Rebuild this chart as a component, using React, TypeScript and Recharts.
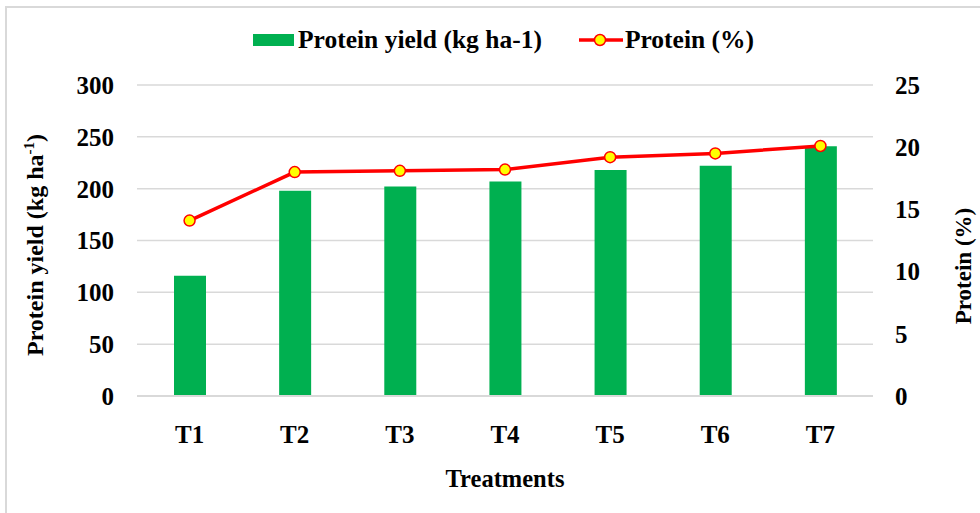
import React from 'react';
import { ComposedChart, Bar, Line, XAxis, YAxis, CartesianGrid, Legend } from 'recharts';

const categories = ['T1', 'T2', 'T3', 'T4', 'T5', 'T6', 'T7'];
const proteinYield = [116, 198, 202, 207, 218, 222, 241];
const proteinPct = [14.1, 18.0, 18.1, 18.2, 19.2, 19.5, 20.1];
const leftTicks = [0, 50, 100, 150, 200, 250, 300];
const rightTicks = [0, 5, 10, 15, 20, 25];

const data = categories.map((c, i) => ({ name: c, yield: proteinYield[i], pct: proteinPct[i] }));

const FONT = '"Liberation Serif", "Times New Roman", serif';
const GREEN = '#00b050';
const RED = '#ff0000';
const YELLOW = '#ffff00';
const GRID = '#d9d9d9';

const tickStyle = { fontFamily: FONT, fontSize: 25, fontWeight: 700, fill: '#000' };

const LegendContent = () => (
  <div style={{ display: 'flex', alignItems: 'center', fontFamily: FONT, fontSize: 25.5, fontWeight: 700, lineHeight: 1, color: '#000', whiteSpace: 'nowrap' }}>
    <svg width={41} height={12} style={{ display: 'block' }}>
      <rect x={0} y={0} width={41} height={12} fill={GREEN} />
    </svg>
    <span style={{ marginLeft: 4 }}>Protein yield (kg ha-1)</span>
    <svg width={44} height={14} style={{ display: 'block', marginLeft: 37 }}>
      <line x1={0} y1={7} x2={44} y2={7} stroke={RED} strokeWidth={3.5} />
      <circle cx={21} cy={7} r={5.5} fill={YELLOW} stroke={RED} strokeWidth={1.5} />
    </svg>
    <span style={{ marginLeft: 2 }}>Protein (%)</span>
  </div>
);

const LeftTitle = () => (
  <text x={0} y={0} transform="translate(43,245) rotate(-90)" textAnchor="middle" style={{ fontFamily: FONT, fontSize: 24, fontWeight: 700 }} fill="#000">
    Protein yield (kg ha<tspan dy={-9} fontSize={15}>-1</tspan><tspan dy={9}>)</tspan>
  </text>
);

const RightTitle = () => (
  <text x={0} y={0} transform="translate(971,266) rotate(-90)" textAnchor="middle" style={{ fontFamily: FONT, fontSize: 23, fontWeight: 700 }} fill="#000">
    Protein (%)
  </text>
);

const XTitle = (props: any) => {
  const vb = props.viewBox || { x: 137, y: 396, width: 736 };
  return (
    <text x={vb.x + vb.width / 2} y={vb.y + 91} textAnchor="middle" style={{ fontFamily: FONT, fontSize: 24.5, fontWeight: 700 }} fill="#000">
      Treatments
    </text>
  );
};

export default function App() {
  return (
    <div style={{ position: 'absolute', left: 0, top: 0, width: 980, height: 513, overflow: 'hidden', background: '#fff' }}>
      <div style={{ position: 'absolute', left: 5, top: 6, width: 1100, height: 1100, border: `2px solid ${GRID}`, boxSizing: 'border-box' }} />
      <div style={{ position: 'absolute', left: 0, top: 0 }}>
        <ComposedChart width={980} height={513} data={data} margin={{ top: 85, right: 0, bottom: 0, left: 0 }} barCategoryGap="34%">
          <CartesianGrid vertical={false} stroke={GRID} strokeWidth={1.5} yAxisId="left" />
          <XAxis
            dataKey="name"
            height={117}
            axisLine={{ stroke: GRID, strokeWidth: 2 }}
            tickLine={false}
            tickMargin={23}
            tick={tickStyle}
            label={<XTitle />}
          />
          <YAxis
            yAxisId="left"
            orientation="left"
            width={137}
            domain={[0, 300]}
            ticks={leftTicks}
            axisLine={false}
            tickLine={false}
            tickMargin={17}
            tick={tickStyle}
            label={<LeftTitle />}
          />
          <YAxis
            yAxisId="right"
            orientation="right"
            width={107}
            domain={[0, 25]}
            ticks={rightTicks}
            axisLine={false}
            tickLine={false}
            tickMargin={16}
            tick={{ ...tickStyle, textAnchor: 'start' }}
            label={<RightTitle />}
          />
          <Legend
            verticalAlign="middle"
            align="center"
            layout="horizontal"
            content={<LegendContent />}
            wrapperStyle={{ left: 253, top: 27, width: 'auto', height: 'auto' }}
          />
          <Bar yAxisId="left" dataKey="yield" name="Protein yield (kg ha-1)" fill={GREEN} barSize={32} isAnimationActive={false} />
          <Line
            yAxisId="right"
            type="linear"
            dataKey="pct"
            name="Protein (%)"
            stroke={RED}
            strokeWidth={3.5}
            dot={{ r: 5.5, fill: YELLOW, stroke: RED, strokeWidth: 1.5 }}
            activeDot={false}
            isAnimationActive={false}
          />
        </ComposedChart>
      </div>
    </div>
  );
}
